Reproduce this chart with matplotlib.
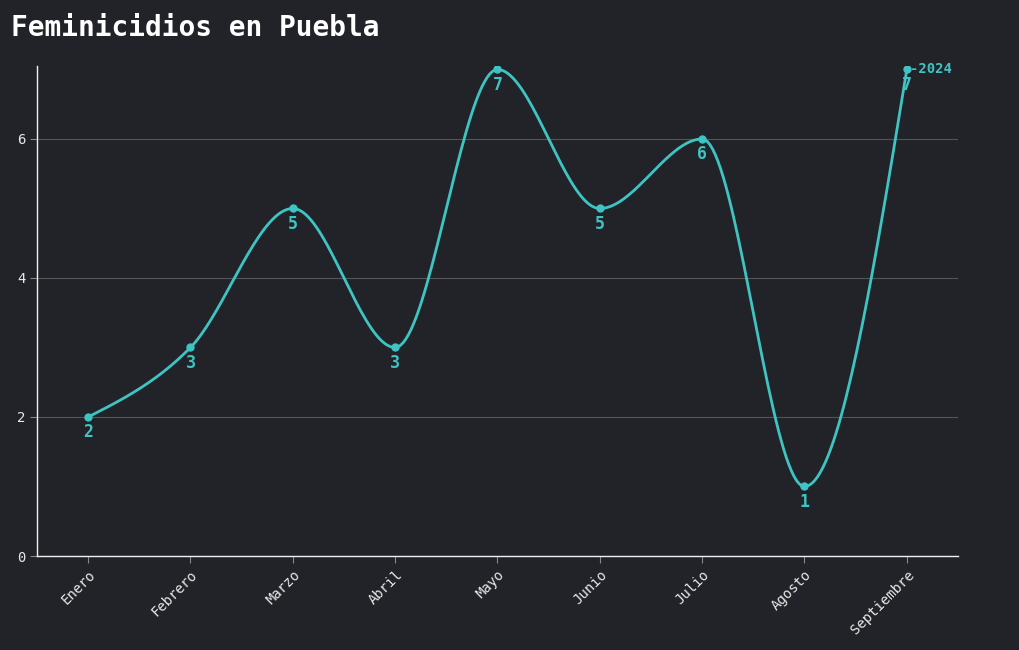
import matplotlib.pyplot as plt
import numpy as np

# Datos
meses = ["Enero", "Febrero", "Marzo", "Abril", "Mayo", "Junio", "Julio", "Agosto", "Septiembre"]
casos = [2, 3, 5, 3, 7, 5, 6, 1, 7]
serie = "2024"

BG = "#222328"
TEAL = "#3ec4c3"
FONT = ["DejaVu Sans Mono"]


def monotone_x(x, y, n=40):
    # curva monotona tipo d3.curveMonotoneX para dibujar la linea
    x = np.asarray(x, float)
    y = np.asarray(y, float)
    k = len(x)
    t = np.zeros(k)
    for i in range(1, k - 1):
        h0 = x[i] - x[i - 1]
        h1 = x[i + 1] - x[i]
        s0 = (y[i] - y[i - 1]) / h0
        s1 = (y[i + 1] - y[i]) / h1
        p = (s0 * h1 + s1 * h0) / (h0 + h1)
        t[i] = (np.sign(s0) + np.sign(s1)) * min(abs(s0), abs(s1), 0.5 * abs(p))
    h = x[1] - x[0]
    t[0] = (3 * (y[1] - y[0]) / h - t[1]) / 2
    h = x[-1] - x[-2]
    t[-1] = (3 * (y[-1] - y[-2]) / h - t[-2]) / 2
    xs, ys = [], []
    u = np.linspace(0, 1, n)
    for i in range(k - 1):
        dx = (x[i + 1] - x[i]) / 3
        p0 = np.array([x[i], y[i]])
        p1 = np.array([x[i] + dx, y[i] + dx * t[i]])
        p2 = np.array([x[i + 1] - dx, y[i + 1] - dx * t[i + 1]])
        p3 = np.array([x[i + 1], y[i + 1]])
        b = ((1 - u) ** 3)[:, None] * p0 + (3 * (1 - u) ** 2 * u)[:, None] * p1 \
            + (3 * (1 - u) * u ** 2)[:, None] * p2 + (u ** 3)[:, None] * p3
        xs.extend(b[:, 0])
        ys.extend(b[:, 1])
    return np.array(xs), np.array(ys)


plt.rcParams['font.family'] = FONT
fig = plt.figure(figsize=(10.2, 6.5), dpi=100, facecolor=BG)
ax = fig.add_axes([37 / 1020, 1 - 556 / 650, (958 - 37) / 1020, (556 - 66) / 650])
ax.set_facecolor(BG)

xi = np.arange(len(meses))
cx, cy = monotone_x(xi, casos)
ax.plot(cx, cy, color=TEAL, lw=2.0, solid_capstyle='round', zorder=3)
ax.plot(xi, casos, 'o', color=TEAL, ms=5, zorder=4)

for x, v in zip(xi, casos):
    ax.annotate(str(v), (x, v), xytext=(0, -11), textcoords='offset points',
                ha='center', va='center', color=TEAL, fontsize=12, fontweight='bold')

ax.annotate("-" + serie, (xi[-1], casos[-1]), xytext=(2, 0), textcoords='offset points',
            ha='left', va='center', color=TEAL, fontsize=10, fontweight='bold')

ax.set_xlim(-0.5, len(meses) - 0.5)
ax.set_ylim(0, 7.05)
ax.set_yticks([0, 2, 4, 6])
ax.set_xticks(xi)
ax.set_xticklabels(meses, rotation=45, ha='right', rotation_mode='anchor')
ax.tick_params(colors='#e8e8e8', labelsize=10, length=5)
ax.tick_params(axis='both', color='#888888')
ax.grid(axis='y', color='#555555', lw=0.8)
ax.set_axisbelow(True)
for s in ['top', 'right']:
    ax.spines[s].set_visible(False)
for s in ['left', 'bottom']:
    ax.spines[s].set_color('#f0f0f0')
    ax.spines[s].set_linewidth(1.0)

fig.text(11 / 1020, 1 - 28 / 650, "Feminicidios en Puebla", color='white', fontsize=20,
         fontweight='bold', va='center', ha='left')

fig.savefig("out.png", dpi=100, facecolor=BG)
